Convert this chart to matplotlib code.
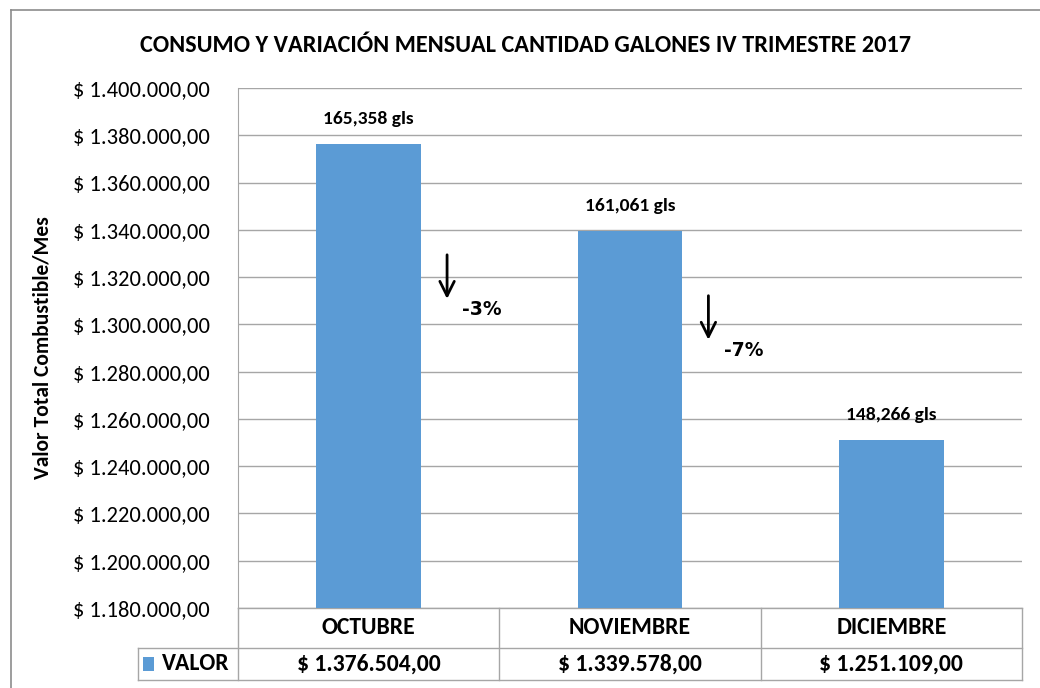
import matplotlib
matplotlib.use("Agg")
import matplotlib.pyplot as plt
from matplotlib.lines import Line2D
from matplotlib.patches import Rectangle

plt.rcParams['font.family'] = ['Carlito', 'Liberation Sans Narrow', 'DejaVu Sans']

meses = ["OCTUBRE", "NOVIEMBRE", "DICIEMBRE"]
valor = [1376504.00, 1339578.00, 1251109.00]
galones = ["165,358 gls", "161,061 gls", "148,266 gls"]
variacion = ["-3%", "-7%"]
y_ticks = list(range(1180000, 1400001, 20000))

BLUE = "#5b9bd5"
GRID = "#a6a6a6"

# where the variation arrows sit (top of arrow, in $)
arrow_top = [1330600, 1313300]


def pesos(v):
    s = f"{v:,.2f}"
    s = s.replace(",", "X").replace(".", ",").replace("X", ".")
    return "$ " + s


fig = plt.figure(figsize=(10.4, 6.88), dpi=100)
ax = fig.add_axes([238 / 1040, 1 - 608 / 688, 784 / 1040, 520 / 688])

x = list(range(len(meses)))
ax.bar(x, [v - y_ticks[0] for v in valor], bottom=y_ticks[0], width=0.4, color=BLUE, zorder=3)

ax.set_xlim(-0.5, len(meses) - 0.5)
ax.set_ylim(y_ticks[0], y_ticks[-1])
ax.set_yticks(y_ticks)
ax.set_yticklabels([pesos(t) for t in y_ticks], fontsize=16.2)
ax.set_xticks([])
ax.tick_params(axis='y', length=0, pad=20)
ax.grid(axis='y', color=GRID, linewidth=1, zorder=0)
for s in ['top', 'right', 'bottom']:
    ax.spines[s].set_visible(False)
ax.spines['left'].set_color(GRID)

ax.set_ylabel("Valor Total Combustible/Mes", fontsize=15.5, fontweight='bold')
ax.yaxis.set_label_coords(-185 / 784, 0.5)

# gallon labels above bars
for i, v in enumerate(valor):
    ax.text(i, v + 10500, galones[i], ha='center', va='center', fontsize=14, fontweight='bold')

# variation arrows between bars
for i, txt in enumerate(variacion):
    top = arrow_top[i]
    ax.annotate("", xy=(i + 0.30, top - 21000), xytext=(i + 0.30, top),
                arrowprops=dict(arrowstyle="->", color='black', lw=2, mutation_scale=26))
    ax.text(i + 0.358, top - 24500, txt, ha='left', va='center', fontsize=13.5,
            fontweight='bold', family='DejaVu Sans')

# title
fig.text(525 / 1040, 1 - 45 / 688, "CONSUMO Y VARIACIÓN MENSUAL CANTIDAD GALONES IV TRIMESTRE 2017",
         ha='center', va='center', fontsize=17.5, fontweight='bold')

# data table below the plot
r1 = -40 / 520
r2 = -72 / 520
kx = -100 / 784
tr = ax.transAxes
lines = [
    ([0, 1], [0, 0]),
    ([kx, 1], [r1, r1]),
    ([kx, 1], [r2, r2]),
    ([kx, kx], [r1, r2]),
    ([0, 0], [0, r2]),
]
for k in range(1, len(meses) + 1):
    xx = k / len(meses)
    lines.append(([xx, xx], [0, r2]))
for xs, ys in lines:
    ax.add_line(Line2D(xs, ys, transform=tr, color=GRID, lw=1, clip_on=False))

for i, m in enumerate(meses):
    cx = (i + 0.5) / len(meses)
    ax.text(cx, r1 / 2, m, transform=tr, ha='center', va='center', fontsize=17, fontweight='bold')
    ax.text(cx, (r1 + r2) / 2, pesos(valor[i]), transform=tr, ha='center', va='center',
            fontsize=17, fontweight='bold')

ax.add_patch(Rectangle((kx + 5 / 784, (r1 + r2) / 2 - 7 / 520), 11 / 784, 14 / 520, transform=tr,
                       facecolor=BLUE, edgecolor='none', clip_on=False))
ax.text(kx + 24 / 784, (r1 + r2) / 2, "VALOR", transform=tr, ha='left', va='center',
        fontsize=17, fontweight='bold')

# outer chart border
fig.add_artist(Line2D([11 / 1040, 11 / 1040], [0, 1 - 10 / 688], transform=fig.transFigure, color='#8c8c8c', lw=1.2))
fig.add_artist(Line2D([11 / 1040, 1], [1 - 10 / 688, 1 - 10 / 688], transform=fig.transFigure, color='#8c8c8c', lw=1.2))

fig.savefig("out.png", dpi=100)
